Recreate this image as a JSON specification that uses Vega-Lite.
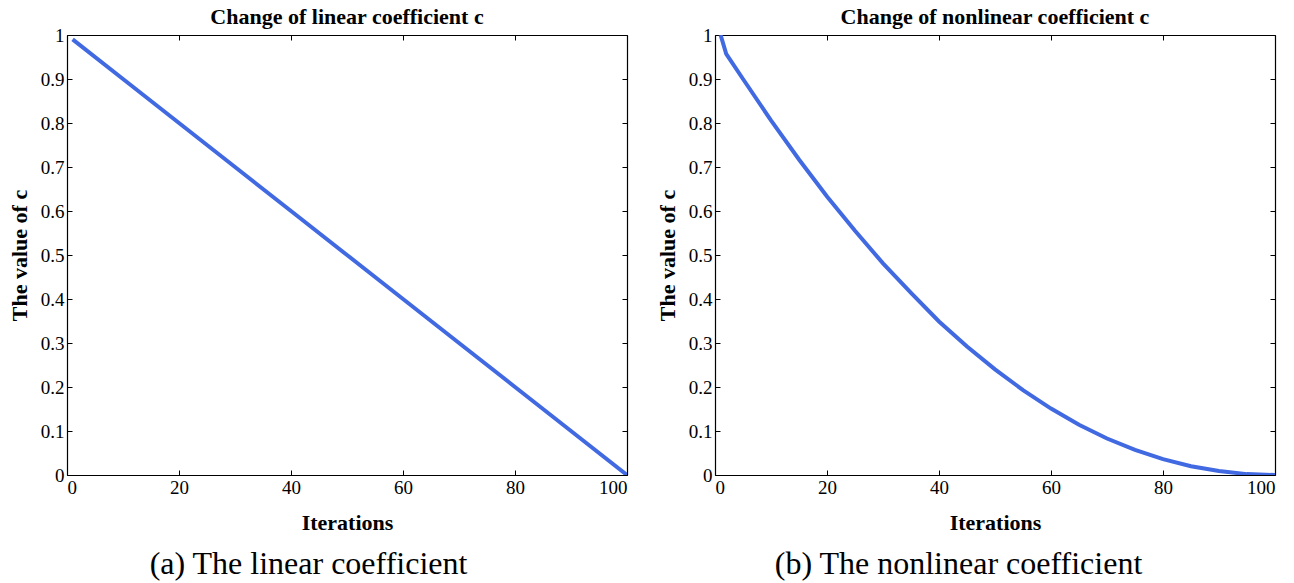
{
  "$schema": "https://vega.github.io/schema/vega-lite/v6.json",
  "background": "white",
  "padding": {"left": 8, "top": 6, "right": 5, "bottom": 5},
  "datasets": {
    "linear": [
      {"iter": 1, "c": 0.99}, {"iter": 10, "c": 0.9}, {"iter": 20, "c": 0.8}, {"iter": 30, "c": 0.7},
      {"iter": 40, "c": 0.6}, {"iter": 50, "c": 0.5}, {"iter": 60, "c": 0.4}, {"iter": 70, "c": 0.3},
      {"iter": 80, "c": 0.2}, {"iter": 90, "c": 0.1}, {"iter": 100, "c": 0.0}
    ],
    "nonlinear": [
      {"iter": 1, "c": 1.0}, {"iter": 2, "c": 0.957}, {"iter": 5, "c": 0.900}, {"iter": 10, "c": 0.806},
      {"iter": 15, "c": 0.717}, {"iter": 20, "c": 0.633}, {"iter": 25, "c": 0.555}, {"iter": 30, "c": 0.481},
      {"iter": 35, "c": 0.414}, {"iter": 40, "c": 0.349}, {"iter": 45, "c": 0.292}, {"iter": 50, "c": 0.240},
      {"iter": 55, "c": 0.193}, {"iter": 60, "c": 0.151}, {"iter": 65, "c": 0.114}, {"iter": 70, "c": 0.083},
      {"iter": 75, "c": 0.057}, {"iter": 80, "c": 0.036}, {"iter": 85, "c": 0.020}, {"iter": 90, "c": 0.009},
      {"iter": 95, "c": 0.002}, {"iter": 100, "c": 0.0}
    ]
  },
  "config": {
    "view": {"stroke": null},
    "font": "Liberation Serif, Times New Roman, serif",
    "axis": {
      "grid": false,
      "domainColor": "black",
      "domainWidth": 1.2,
      "tickColor": "black",
      "tickSize": -5,
      "labelColor": "black",
      "labelFont": "Liberation Serif, Times New Roman, serif",
      "labelFontSize": 19,
      "labelPadding": 8,
      "titleColor": "black",
      "titleFont": "Liberation Serif, Times New Roman, serif",
      "titleFontSize": 22,
      "titleFontWeight": "bold"
    },
    "title": {"font": "Liberation Serif, Times New Roman, serif", "fontSize": 22, "fontWeight": "bold", "color": "black", "offset": -3}
  },
  "spacing": 28,
  "hconcat": [
    {
      "width": 560,
      "height": 440,
      "title": "Change of linear coefficient c",
      "data": {"name": "linear"},
      "resolve": {"axis": {"x": "independent", "y": "independent"}},
      "layer": [
        {
          "mark": {"type": "line", "color": "#4169E1", "strokeWidth": 4, "clip": true},
          "encoding": {
            "x": {"field": "iter", "type": "quantitative", "scale": {"domain": [0, 100], "nice": false, "zero": false},
                  "axis": {"orient": "bottom", "title": "Iterations", "format": "d", "values": [0, 20, 40, 60, 80, 100], "titlePadding": 15}},
            "y": {"field": "c", "type": "quantitative", "scale": {"domain": [0, 1], "nice": false, "zero": false},
                  "axis": {"orient": "left", "title": "The value of c", "format": "~g", "values": [0, 0.1, 0.2, 0.3, 0.4, 0.5, 0.6, 0.7, 0.8, 0.9, 1], "titlePadding": 9}}
          }
        },
        {
          "mark": {"type": "line", "opacity": 0},
          "encoding": {
            "x": {"field": "iter", "type": "quantitative", "scale": {"domain": [0, 100], "nice": false, "zero": false},
                  "axis": {"orient": "top", "title": null, "labels": false, "values": [0, 20, 40, 60, 80, 100]}},
            "y": {"field": "c", "type": "quantitative", "scale": {"domain": [0, 1], "nice": false, "zero": false},
                  "axis": {"orient": "right", "title": null, "labels": false, "values": [0, 0.1, 0.2, 0.3, 0.4, 0.5, 0.6, 0.7, 0.8, 0.9, 1]}}
          }
        },
        {
          "mark": {"type": "line", "opacity": 0},
          "encoding": {
            "x": {"field": "iter", "type": "quantitative", "scale": {"domain": [0, 100], "nice": false, "zero": false},
                  "axis": {"orient": "bottom", "title": "(a) The linear coefficient", "labels": false, "ticks": false, "domain": false,
                           "titleFontSize": 32, "titleFontWeight": "normal", "titlePadding": 73, "titleX": 241}},
            "y": {"field": "c", "type": "quantitative", "scale": {"domain": [0, 1], "nice": false, "zero": false}, "axis": null}
          }
        }
      ]
    },
    {
      "width": 560,
      "height": 440,
      "title": "Change of nonlinear coefficient c",
      "data": {"name": "nonlinear"},
      "resolve": {"axis": {"x": "independent", "y": "independent"}},
      "layer": [
        {
          "mark": {"type": "line", "color": "#4169E1", "strokeWidth": 4, "clip": true},
          "encoding": {
            "x": {"field": "iter", "type": "quantitative", "scale": {"domain": [0, 100], "nice": false, "zero": false},
                  "axis": {"orient": "bottom", "title": "Iterations", "format": "d", "values": [0, 20, 40, 60, 80, 100], "titlePadding": 15}},
            "y": {"field": "c", "type": "quantitative", "scale": {"domain": [0, 1], "nice": false, "zero": false},
                  "axis": {"orient": "left", "title": "The value of c", "format": "~g", "values": [0, 0.1, 0.2, 0.3, 0.4, 0.5, 0.6, 0.7, 0.8, 0.9, 1], "titlePadding": 9}}
          }
        },
        {
          "mark": {"type": "line", "opacity": 0},
          "encoding": {
            "x": {"field": "iter", "type": "quantitative", "scale": {"domain": [0, 100], "nice": false, "zero": false},
                  "axis": {"orient": "top", "title": null, "labels": false, "values": [0, 20, 40, 60, 80, 100]}},
            "y": {"field": "c", "type": "quantitative", "scale": {"domain": [0, 1], "nice": false, "zero": false},
                  "axis": {"orient": "right", "title": null, "labels": false, "values": [0, 0.1, 0.2, 0.3, 0.4, 0.5, 0.6, 0.7, 0.8, 0.9, 1]}}
          }
        },
        {
          "mark": {"type": "line", "opacity": 0},
          "encoding": {
            "x": {"field": "iter", "type": "quantitative", "scale": {"domain": [0, 100], "nice": false, "zero": false},
                  "axis": {"orient": "bottom", "title": "(b) The nonlinear coefficient", "labels": false, "ticks": false, "domain": false,
                           "titleFontSize": 32, "titleFontWeight": "normal", "titlePadding": 73, "titleX": 243}},
            "y": {"field": "c", "type": "quantitative", "scale": {"domain": [0, 1], "nice": false, "zero": false}, "axis": null}
          }
        }
      ]
    }
  ]
}
